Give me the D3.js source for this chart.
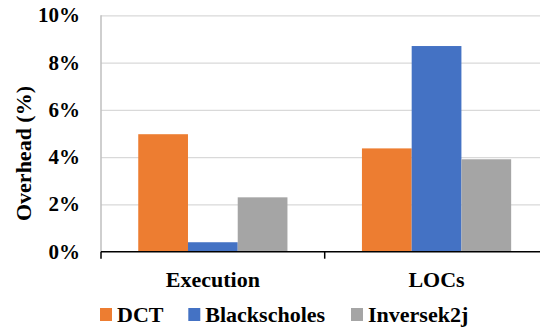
<!DOCTYPE html>
<html>
<head>
<meta charset="UTF-8">
<title>Overhead</title>
<style>
  body { margin: 0; background: #fff; }
  svg text { font-family: "Liberation Serif", "Times New Roman", serif; font-weight: bold; fill: #000; }
  .grid line { stroke: #d9d9d9; stroke-width: 1.2; }
  .grid path { display: none; }
</style>
</head>
<body>
<script src="https://d3js.org/d3.v7.min.js"></script>
<script>
// data
var categories = ["Execution", "LOCs"];
var seriesNames = ["DCT", "Blackscholes", "Inversek2j"];
var seriesColors = ["#ED7D31", "#4472C4", "#A5A5A5"];
var dctValues = [4.97, 4.37];
var blackscholesValues = [0.40, 8.70];
var inversekValues = [2.30, 3.91];
var yTicks = [0, 2, 4, 6, 8, 10];

var seriesValues = [dctValues, blackscholesValues, inversekValues];

var W = 540, H = 329;
var margin = {top: 15.3, left: 101, bottom: 77.3, right: -8.4};
var width = W - margin.left - margin.right,
    height = H - margin.top - margin.bottom;

var svg = d3.select("body").append("svg")
  .attr("width", W).attr("height", H);

var g = svg.append("g")
  .attr("transform", "translate(" + margin.left + "," + margin.top + ")");

var x0 = d3.scaleBand().domain(categories).range([0, width]).paddingInner(0.333).paddingOuter(0.1665);
var x1 = d3.scaleBand().domain(seriesNames).range([0, x0.bandwidth()]);
var y = d3.scaleLinear().domain([0, 10]).range([height, 0]);

// gridlines
g.append("g").attr("class", "grid")
  .call(d3.axisLeft(y).tickValues(yTicks.slice(1)).tickSize(-width).tickFormat(""));

// y axis line
g.append("line")
  .attr("x1", 0).attr("x2", 0).attr("y1", 0).attr("y2", height)
  .attr("stroke", "#bfbfbf").attr("stroke-width", 1.5);

// y tick labels
g.selectAll(".ylab").data(yTicks).enter().append("text")
  .attr("x", -21).attr("y", function(d) { return y(d); })
  .attr("dy", "0.33em")
  .attr("text-anchor", "end")
  .style("font-size", "21px")
  .text(function(d) { return d + "%"; });

// bars
var groups = g.selectAll(".cat").data(categories).enter().append("g")
  .attr("transform", function(d) { return "translate(" + x0(d) + ",0)"; });

groups.selectAll("rect").data(function(d, i) {
    return seriesNames.map(function(s, j) { return {s: s, v: seriesValues[j][i], c: seriesColors[j]}; });
  }).enter().append("rect")
  .attr("x", function(d) { return x1(d.s); })
  .attr("width", x1.bandwidth())
  .attr("y", function(d) { return y(d.v); })
  .attr("height", function(d) { return height - y(d.v); })
  .attr("fill", function(d) { return d.c; });

// x axis line + ticks
var xa = g.append("g").attr("transform", "translate(0," + height + ")");
xa.append("line").attr("x1", 0).attr("x2", width).attr("stroke", "#000").attr("stroke-width", 1.5);
var bounds = [0, width / 2, width];
xa.selectAll(".xt").data(bounds).enter().append("line")
  .attr("x1", function(d) { return d; }).attr("x2", function(d) { return d; })
  .attr("y1", 0).attr("y2", 7)
  .attr("stroke", "#000").attr("stroke-width", 1.5);

xa.selectAll(".xlab").data(categories).enter().append("text")
  .attr("x", function(d) { return x0(d) + x0.bandwidth() / 2; })
  .attr("y", 35)
  .attr("text-anchor", "middle")
  .style("font-size", "22px")
  .text(function(d) { return d; });

// y title
svg.append("text")
  .attr("transform", "translate(31," + (margin.top + height / 2 + 20) + ") rotate(-90)")
  .attr("text-anchor", "middle")
  .style("font-size", "22px")
  .text("Overhead (%)");

// legend
var legendX = [100, 188.3, 351];
var leg = svg.selectAll(".leg").data(seriesNames).enter().append("g")
  .attr("transform", function(d, i) { return "translate(" + legendX[i] + ",308)"; });
leg.append("rect").attr("width", 12).attr("height", 13)
  .attr("fill", function(d, i) { return seriesColors[i]; });
leg.append("text").attr("x", 17).attr("y", 14)
  .style("font-size", "22px")
  .text(function(d) { return d; });
</script>
</body>
</html>
